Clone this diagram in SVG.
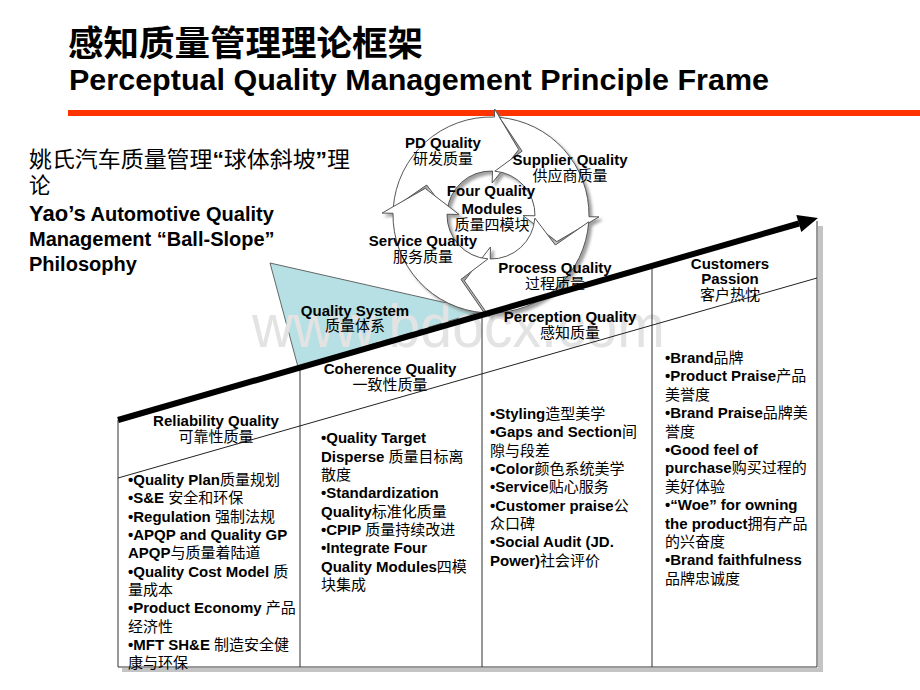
<svg xmlns="http://www.w3.org/2000/svg" width="920" height="690" viewBox="0 0 920 690">
<defs>
<style>
.en{font-family:"Liberation Sans",Arial,"Noto Sans CJK SC",sans-serif;font-weight:bold;fill:#000}
.b{font-size:15px}
.c{font-family:"Noto Sans CJK SC",sans-serif;font-weight:normal}
.mid{text-anchor:middle}
.ln{stroke:#333;stroke-width:1;fill:none}
.arc{fill:#fff;stroke:#555;stroke-width:1}
</style>
<filter id="sh" x="-20%" y="-20%" width="150%" height="150%">
<feDropShadow dx="3" dy="3" stdDeviation="1.5" flood-color="#777" flood-opacity="0.7"/>
</filter>
</defs>
<rect width="920" height="690" fill="#fff"/>

<g id="title">
<text x="68" y="56" font-family="'Noto Sans CJK SC',sans-serif" font-weight="bold" font-size="35" textLength="355" lengthAdjust="spacingAndGlyphs">感知质量管理理论框架</text>
<text x="69" y="90" class="en" font-size="29" textLength="700" lengthAdjust="spacingAndGlyphs">Perceptual Quality Management Principle Frame</text>
<rect x="68" y="110" width="852" height="6" fill="#FF3300"/>
</g>

<g id="philosophy">
<text x="29" y="167" font-family="'Noto Sans CJK SC',sans-serif" font-size="21.5" textLength="321" lengthAdjust="spacingAndGlyphs">姚氏汽车质量管理<tspan font-family="'Liberation Sans',Arial,sans-serif" font-weight="bold">“</tspan>球体斜坡<tspan font-family="'Liberation Sans',Arial,sans-serif" font-weight="bold">”</tspan>理</text>
<text x="29" y="193" font-family="'Noto Sans CJK SC',sans-serif" font-size="21.5">论</text>
<text class="en" font-size="20"><tspan x="29" y="221"><tspan font-size="22">Yao’s</tspan> Automotive Quality</tspan><tspan x="29" y="246">Management “Ball-Slope”</tspan><tspan x="29" y="271">Philosophy</tspan></text>
</g>

<g id="quality-system">
<polygon points="270,263 482,311 298,367" fill="#B6E0E3" stroke="#444" stroke-width="0.8"/>
</g>

<text x="252" y="347" font-family="'Liberation Sans',Arial,sans-serif" font-size="62" fill="#e3e3e3" textLength="413" lengthAdjust="spacingAndGlyphs">www.bdocx.com</text>

<g id="cycle">
<g filter="url(#sh)">
<path id="arrow-pd" class="arc" d="M393.24,208.16 A98,98 0 0 1 494.42,117.06 L494.70,109.06 L518.74,149.64 L492.12,183.02 L492.54,171.03 A44,44 0 0 0 447.11,211.93 L426.65,184.99 Z"/>
<path id="arrow-supplier" class="arc" d="M499.54,117.37 A98,98 0 0 1 588.99,216.71 L598.98,216.88 L556.83,241.60 L523.00,215.56 L534.99,215.77 A44,44 0 0 0 494.84,171.17 L522.12,151.19 Z"/>
<path id="arrow-process" class="arc" d="M588.76,221.84 A98,98 0 0 1 489.29,312.99 L489.22,316.5 L464.40,280.83 L490.44,247.00 L490.23,258.99 A44,44 0 0 0 534.89,218.07 L555.35,245.01 Z"/>
<path id="arrow-service" class="arc" d="M484.16,312.76 A98,98 0 0 1 393.01,213.29 L382.0,213.1 L425.17,188.40 L459.00,214.44 L447.01,214.23 A44,44 0 0 0 487.93,258.89 L460.99,279.35 Z"/>
</g>
</g>

<g id="pd-quality" class="en b mid"><text x="443" y="148">PD Quality</text><text x="443" y="164" class="c">研发质量</text></g>
<g id="supplier-quality" class="en b mid"><text x="570" y="165">Supplier Quality</text><text x="570" y="181" class="c">供应商质量</text></g>
<g id="four-modules" class="en b mid"><text x="491" y="196">Four Quality</text><text x="492" y="214">Modules</text><text x="492" y="230" class="c">质量四模块</text></g>
<g id="service-quality" class="en b mid"><text x="423" y="246">Service Quality</text><text x="423" y="262" class="c">服务质量</text></g>
<g id="process-quality" class="en b mid"><text x="555" y="273">Process Quality</text><text x="555" y="289" class="c">过程质量</text></g>
<g id="quality-system-label" class="en b mid"><text x="355" y="316">Quality System</text><text x="355" y="331" class="c">质量体系</text></g>

<g id="frame">
<rect x="818" y="226" width="5" height="446" fill="#c4c4c4"/>
<rect x="122" y="668" width="701" height="4" fill="#c4c4c4"/>
<path class="ln" d="M118,420 V667 H817 V221 M300,368 V667 M482,316 V667 M652,268 V667"/>
</g>

<g id="connectors">
<line x1="118" y1="478" x2="817" y2="278" stroke="#222" stroke-width="1"/>
<line x1="118" y1="420" x2="799" y2="223.5" stroke="#000" stroke-width="6"/>
<polygon points="818,218 796.3,214.9 801.3,232.1" fill="#000"/>
</g>

<g id="reliability-quality" class="en b">
<text x="216" y="426" class="mid">Reliability Quality</text><text x="216" y="442" class="mid c">可靠性质量</text>
<text x="128" y="485">•Quality Plan<tspan class="c">质量规划</tspan></text>
<text x="128" y="503.3">•S&amp;E <tspan class="c">安全和环保</tspan></text>
<text x="128" y="521.7">•Regulation <tspan class="c">强制法规</tspan></text>
<text x="128" y="540">•APQP and Quality GP</text>
<text x="128" y="558.3">APQP<tspan class="c">与质量着陆道</tspan></text>
<text x="128" y="576.7">•Quality Cost Model <tspan class="c">质</tspan></text>
<text x="128" y="595" class="c">量成本</text>
<text x="128" y="613.3">•Product Economy <tspan class="c">产品</tspan></text>
<text x="128" y="631.7" class="c">经济性</text>
<text x="128" y="650">•MFT SH&amp;E <tspan class="c">制造安全健</tspan></text>
<text x="128" y="668.3" class="c">康与环保</text>
</g>

<g id="coherence-quality" class="en b">
<text x="390" y="374" class="mid">Coherence Quality</text><text x="390" y="390" class="mid c">一致性质量</text>
<text x="321" y="443.3">•Quality Target</text>
<text x="321" y="461.6">Disperse <tspan class="c">质量目标离</tspan></text>
<text x="321" y="480" class="c">散度</text>
<text x="321" y="498.3">•Standardization</text>
<text x="321" y="516.6">Quality<tspan class="c">标准化质量</tspan></text>
<text x="321" y="535">•CPIP <tspan class="c">质量持续改进</tspan></text>
<text x="321" y="553.3">•Integrate Four</text>
<text x="321" y="571.6">Quality Modules<tspan class="c">四模</tspan></text>
<text x="321" y="590" class="c">块集成</text>
</g>

<g id="perception-quality" class="en b">
<text x="570" y="322" class="mid">Perception Quality</text><text x="570" y="338" class="mid c">感知质量</text>
<text x="490" y="419">•Styling<tspan class="c">造型美学</tspan></text>
<text x="490" y="437.3">•Gaps and Section<tspan class="c">间</tspan></text>
<text x="490" y="455.6" class="c">隙与段差</text>
<text x="490" y="474">•Color<tspan class="c">颜色系统美学</tspan></text>
<text x="490" y="492.3">•Service<tspan class="c">贴心服务</tspan></text>
<text x="490" y="510.6">•Customer praise<tspan class="c">公</tspan></text>
<text x="490" y="529" class="c">众口碑</text>
<text x="490" y="547.3">•Social Audit (JD.</text>
<text x="490" y="565.6">Power)<tspan class="c">社会评价</tspan></text>
</g>

<g id="customers-passion" class="en b">
<text x="730" y="269" class="mid">Customers</text><text x="730" y="284" class="mid">Passion</text><text x="730" y="300" class="mid c">客户热忱</text>
<text x="665" y="363">•Brand<tspan class="c">品牌</tspan></text>
<text x="665" y="381.4">•Product Praise<tspan class="c">产品</tspan></text>
<text x="665" y="399.8" class="c">美誉度</text>
<text x="665" y="418.2">•Brand Praise<tspan class="c">品牌美</tspan></text>
<text x="665" y="436.6" class="c">誉度</text>
<text x="665" y="455">•Good feel of</text>
<text x="665" y="473.4">purchase<tspan class="c">购买过程的</tspan></text>
<text x="665" y="491.8" class="c">美好体验</text>
<text x="665" y="510.2">•“Woe” for owning</text>
<text x="665" y="528.6">the product<tspan class="c">拥有产品</tspan></text>
<text x="665" y="547" class="c">的兴奋度</text>
<text x="665" y="565.4">•Brand faithfulness</text>
<text x="665" y="583.8" class="c">品牌忠诚度</text>
</g>
</svg>
